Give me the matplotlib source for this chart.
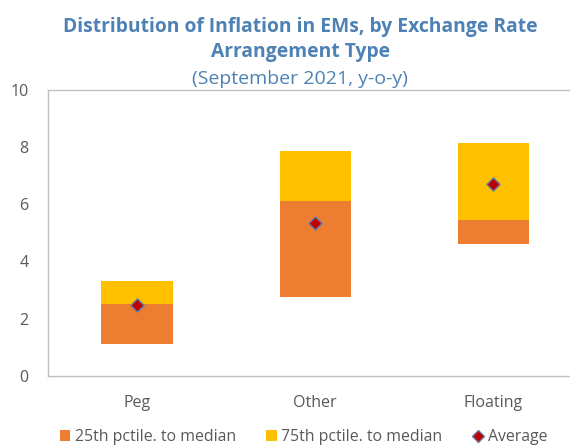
import matplotlib
matplotlib.use("Agg")
import matplotlib.pyplot as plt
from matplotlib.lines import Line2D
from matplotlib.patches import Patch

categories = ["Peg", "Other", "Floating"]
p25 = [1.11, 2.74, 4.62]
median = [2.49, 6.12, 5.45]
p75 = [3.31, 7.84, 8.13]
average = [2.48, 5.33, 6.71]

ORANGE = "#ED7D31"
YELLOW = "#FFC000"
TITLE_BLUE = "#4E81B4"
GREY_TXT = "#595959"

plt.rcParams["font.family"] = ["Open Sans", "DejaVu Sans"]

fig = plt.figure(figsize=(5.7, 4.45), dpi=100)
ax = fig.add_axes([0.0842, 0.1557, 0.9158, 0.6427])

x = list(range(len(categories)))
lower = [m - a for m, a in zip(median, p25)]
upper = [t - m for t, m in zip(p75, median)]
ax.bar(x, lower, bottom=p25, width=0.4, color=ORANGE, zorder=2)
ax.bar(x, upper, bottom=median, width=0.4, color=YELLOW, zorder=2)
ax.scatter(x, average, marker="D", s=45, color="#C00000",
           edgecolor="#5B7FA8", linewidth=1.0, zorder=3)

ax.set_xlim(-0.5, 2.43)
ax.set_ylim(0, 10)
ax.set_yticks(range(0, 11, 2))
ax.set_xticks(x)
ax.set_xticklabels(categories)
ax.tick_params(axis="both", length=0, colors=GREY_TXT, labelsize=11.5)
ax.tick_params(axis="y", pad=14)
ax.tick_params(axis="x", pad=14)
for s in ["left", "top", "bottom"]:
    ax.spines[s].set_color("#BFBFBF")
    ax.spines[s].set_linewidth(1.0)
ax.spines["right"].set_visible(False)

fig.text(0.527, 0.911, "Distribution of Inflation in EMs, by Exchange Rate\nArrangement Type",
         ha="center", va="center", fontsize=13.9, fontweight="bold",
         color=TITLE_BLUE, linespacing=1.3)
fig.text(0.527, 0.822, "(September 2021, y-o-y)", ha="center", va="center",
         fontsize=14, color=TITLE_BLUE)

handles = [
    Patch(facecolor=ORANGE, label="25th pctile. to median"),
    Patch(facecolor=YELLOW, label="75th pctile. to median"),
    Line2D([], [], marker="D", linestyle="none", markersize=6,
           markerfacecolor="#C00000", markeredgecolor="#5B7FA8",
           label="Average"),
]
leg = fig.legend(handles=handles, loc="center", bbox_to_anchor=(0.5325, 0.018),
                 ncol=3, frameon=False, fontsize=11.4, handlelength=0.65,
                 handleheight=0.65, handletextpad=0.3, columnspacing=1.9)
for t in leg.get_texts():
    t.set_color(GREY_TXT)

fig.savefig("out.png", dpi=100)
